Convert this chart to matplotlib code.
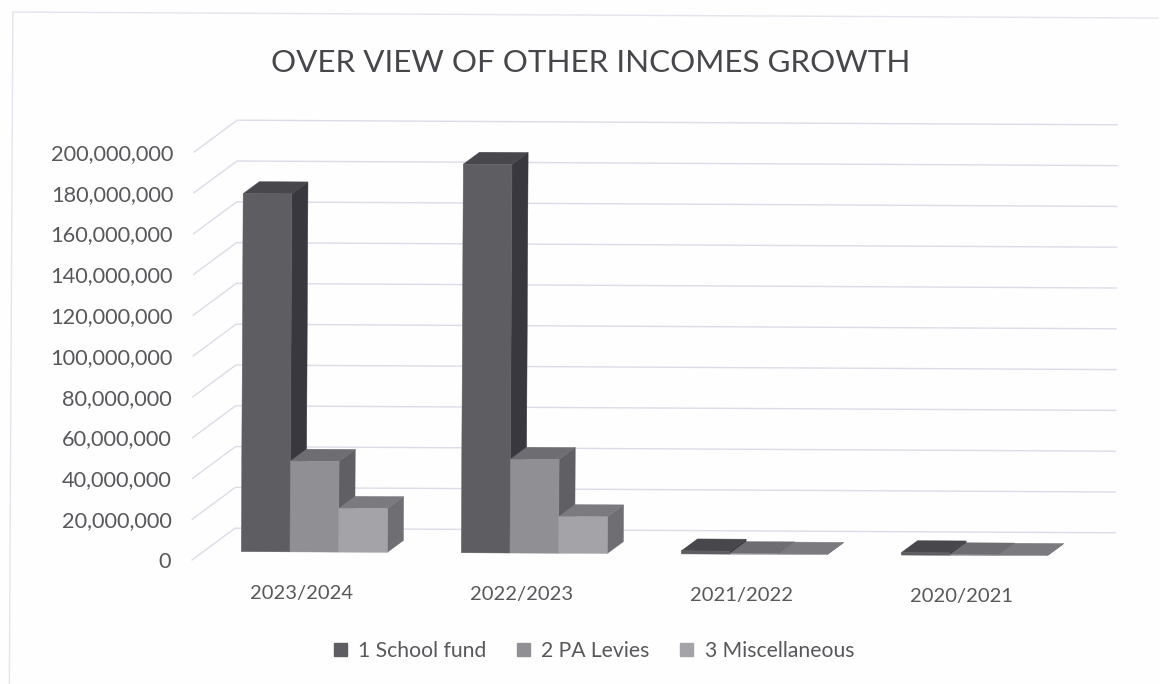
import matplotlib
matplotlib.use('Agg')
import matplotlib.pyplot as plt
from matplotlib.lines import Line2D
from matplotlib.patches import Patch, Polygon
from matplotlib.transforms import Affine2D

years = ['2023/2024', '2022/2023', '2021/2022', '2020/2021']
series_names = ['1 School fund', '2 PA Levies', '3 Miscellaneous']
school_fund = [175500000, 190500000, 1500000, 1200000]
pa_levies = [44500000, 46000000, 300000, 300000]
miscellaneous = [21500000, 18000000, 200000, 200000]
y_ticks = list(range(0, 200000001, 20000000))

front_colors = ['#5e5e62', '#8f8f94', '#a3a3a8']
side_colors = ['#38383e', '#5f5f64', '#6e6e73']
top_colors = ['#47474c', '#6d6d72', '#7a7a7f']
grid_color = '#dcdce8'
text_color = '#58585c'

plt.rcParams['font.family'] = ['Lato', 'DejaVu Sans']

W, H = 1160, 684
fig = plt.figure(figsize=(W / 100, H / 100), dpi=100, facecolor='#fefefe')
ax = fig.add_axes([192 / W, (H - 560) / H, 880 / W, 408 / H])
ax.set_xlim(0, 4)
ax.set_ylim(0, 200000000)
ax.patch.set_visible(False)
for s in ax.spines.values():
    s.set_visible(False)

# the whole chart sits very slightly rotated on the page
tilt = Affine2D().rotate_deg_around(192, H - 560, -0.3)
tr = ax.transData + tilt

# thin chart border, only the top and left edges show
fig.add_artist(Line2D([10, 10, 1155], [0 - 30, H - 13, H - 13], color='#e4e4ec', lw=1.0, transform=tilt))

# oblique depth: how far the back wall is shifted from the front plane
depth_x = 0.195
depth_y = 15700000


def project(x, v, d):
    return (x + d * depth_x, v + d * depth_y)


for v in y_ticks:
    ax.plot(*zip(project(0, v, 0), project(0, v, 1), project(4, v, 1)),
            color=grid_color, lw=1.0, transform=tr, zorder=1, clip_on=False)


def draw_box(x0, x1, v, d0, d1, n):
    front = [project(x0, 0, d0), project(x1, 0, d0), project(x1, v, d0), project(x0, v, d0)]
    side = [project(x1, 0, d0), project(x1, 0, d1), project(x1, v, d1), project(x1, v, d0)]
    top = [project(x0, v, d0), project(x1, v, d0), project(x1, v, d1), project(x0, v, d1)]
    for pts, col in [(side, side_colors[n]), (top, top_colors[n]), (front, front_colors[n])]:
        ax.add_patch(Polygon(pts, closed=True, facecolor=col, edgecolor=col, lw=0.3,
                             transform=tr, zorder=3, clip_on=False))


bar_w = 0.2212
bar_d0 = 0.27
bar_d1 = 0.645
all_series = [school_fund, pa_levies, miscellaneous]
for i in range(len(years)):
    left = i + 0.5 - 1.5 * bar_w + 0.003
    for n, values in enumerate(all_series):
        draw_box(left + n * bar_w, left + (n + 1) * bar_w, values[i], bar_d0, bar_d1, n)

ax.set_yticks(y_ticks)
ax.set_yticklabels([f'{v:,}' for v in y_ticks])
ax.set_xticks([i + 0.5 for i in range(len(years))])
ax.set_xticklabels(years)
ax.tick_params(axis='y', length=0, pad=15, labelsize=15.7, labelcolor=text_color)
ax.tick_params(axis='x', length=0, pad=17.5, labelsize=14.5, labelcolor=text_color)
for lab in ax.get_xticklabels() + ax.get_yticklabels():
    lab.set_transform(lab.get_transform() + tilt)

fig.text(591 / W, (H - 63) / H, 'OVER VIEW OF OTHER INCOMES GROWTH', ha='center', va='center',
         fontsize=22.6, color='#47474b')

handles = [Patch(facecolor=c, edgecolor=c, label=name) for c, name in zip(front_colors, series_names)]
fig.legend(handles=handles, loc='center', bbox_to_anchor=(594 / W, (H - 651) / H), ncol=3,
           frameon=False, fontsize=15.2, labelcolor=text_color, handlelength=0.6, handleheight=0.6,
           handletextpad=0.55, columnspacing=1.45)

fig.savefig('out.png', dpi=100, facecolor=fig.get_facecolor())
